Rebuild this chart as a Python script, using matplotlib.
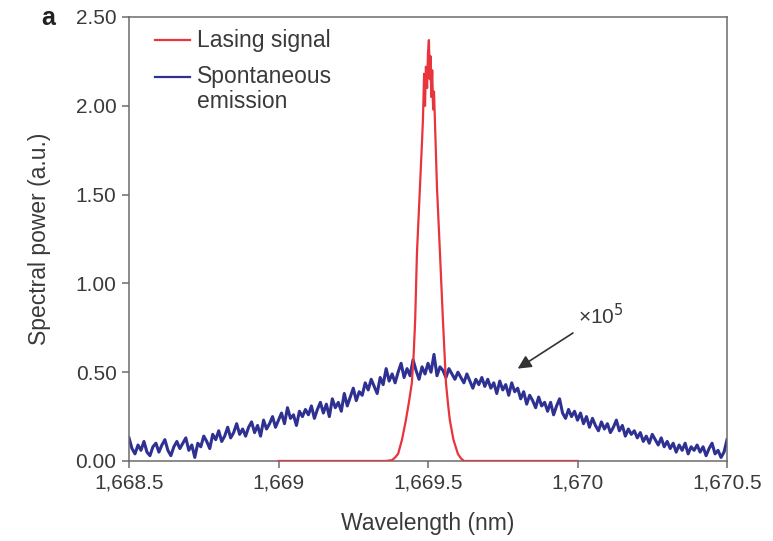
import numpy as np
import matplotlib
matplotlib.use("Agg")
import matplotlib.pyplot as plt

# --- data ------------------------------------------------------------------
# lasing signal (red), wavelength in nm / spectral power in a.u.
laser_wl = [1669.00, 1669.36, 1669.38, 1669.39, 1669.40, 1669.413, 1669.426,
            1669.437, 1669.446, 1669.452, 1669.457, 1669.463, 1669.473,
            1669.480, 1669.483, 1669.487, 1669.490, 1669.493, 1669.497,
            1669.500, 1669.503, 1669.506, 1669.508, 1669.511, 1669.514,
            1669.517, 1669.520, 1669.523, 1669.530, 1669.540, 1669.550,
            1669.560, 1669.567, 1669.573, 1669.585, 1669.600, 1669.610,
            1669.620, 1670.00]
laser_pw = [0.00, 0.00, 0.005, 0.02, 0.04, 0.12, 0.23,
            0.34, 0.44, 0.60, 0.79, 1.17, 1.54,
            1.80, 1.92, 2.18, 2.00, 2.22, 2.10,
            2.30, 2.37, 2.15, 2.28, 2.05, 2.20,
            1.98, 2.08, 1.92, 1.54, 1.17, 0.79,
            0.44, 0.32, 0.23, 0.12, 0.04, 0.015,
            0.00, 0.00]

# spontaneous emission (blue, x1e5), sampled every 0.01 nm from 1668.5 to 1670.5
spont_start, spont_stop = 1668.5, 1670.5
spont_pw = [
    0.13, 0.07, 0.04, 0.09, 0.06, 0.11, 0.05, 0.03, 0.08, 0.10,
    0.05, 0.09, 0.12, 0.06, 0.03, 0.08, 0.11, 0.07, 0.10, 0.13,
    0.06, 0.09, 0.02, 0.10, 0.08, 0.14, 0.11, 0.07, 0.15, 0.12,
    0.17, 0.11, 0.14, 0.19, 0.13, 0.16, 0.21, 0.15, 0.18, 0.14,
    0.19, 0.22, 0.16, 0.20, 0.14, 0.23, 0.18, 0.21, 0.25, 0.19,
    0.23, 0.27, 0.21, 0.30, 0.24, 0.26, 0.20, 0.28, 0.25, 0.29,
    0.26, 0.31, 0.24, 0.29, 0.33, 0.27, 0.32, 0.25, 0.35, 0.30,
    0.33, 0.28, 0.38, 0.31, 0.36, 0.41, 0.34, 0.39, 0.37, 0.44,
    0.40, 0.46, 0.42, 0.38, 0.47, 0.43, 0.52, 0.45, 0.49, 0.44,
    0.50, 0.55, 0.47, 0.52, 0.48, 0.57, 0.51, 0.46, 0.53, 0.49,
    0.55, 0.50, 0.60, 0.48, 0.53, 0.51, 0.47, 0.52, 0.49, 0.46,
    0.50, 0.47, 0.44, 0.49, 0.45, 0.41, 0.46, 0.43, 0.47, 0.42,
    0.46, 0.41, 0.44, 0.38, 0.45, 0.40, 0.43, 0.37, 0.44, 0.39,
    0.41, 0.35, 0.39, 0.32, 0.37, 0.34, 0.30, 0.36, 0.31, 0.33,
    0.28, 0.33, 0.26, 0.31, 0.35, 0.27, 0.24, 0.29, 0.25, 0.28,
    0.23, 0.27, 0.21, 0.25, 0.19, 0.24, 0.20, 0.17, 0.22, 0.18,
    0.21, 0.16, 0.19, 0.23, 0.17, 0.20, 0.14, 0.18, 0.15, 0.17,
    0.13, 0.16, 0.11, 0.14, 0.10, 0.15, 0.12, 0.09, 0.13, 0.08,
    0.11, 0.07, 0.10, 0.05, 0.09, 0.06, 0.10, 0.04, 0.08, 0.06,
    0.09, 0.05, 0.08, 0.03, 0.07, 0.10, 0.04, 0.06, 0.02, 0.05,
    0.12,
]

x_ticks = [1668.5, 1669.0, 1669.5, 1670.0, 1670.5]
x_ticklabels = ["1,668.5", "1,669", "1,669.5", "1,670", "1,670.5"]
y_ticks = [0.0, 0.5, 1.0, 1.5, 2.0, 2.5]

RED = "#e8343a"
BLUE = "#2e3192"
SPINE = "#6b6b6b"
TXT = "#3a3a3a"

plt.rcParams["font.family"] = ["Liberation Sans", "DejaVu Sans"]

fig = plt.figure(figsize=(7.73, 5.41), dpi=100)
ax = fig.add_axes([0.1669, 0.1479, 0.7736, 0.8207])

spont_wl = np.linspace(spont_start, spont_stop, len(spont_pw))
ax.plot(spont_wl, spont_pw, color=BLUE, lw=2.2, zorder=2)
ax.plot(laser_wl, laser_pw, color=RED, lw=1.6, zorder=3)

ax.set_xlim(1668.5, 1670.5)
ax.set_ylim(0, 2.5)
ax.set_xticks(x_ticks)
ax.set_xticklabels(x_ticklabels)
ax.set_yticks(y_ticks)
ax.set_yticklabels([f"{v:.2f}" for v in y_ticks])
ax.tick_params(direction="out", length=5, width=1.1, color=SPINE,
               labelsize=15, labelcolor=TXT, pad=4)
for s in ax.spines.values():
    s.set_color(SPINE)
    s.set_linewidth(1.1)

ax.set_xlabel("Wavelength (nm)", fontsize=16.5, color=TXT, labelpad=14)
ax.set_ylabel("Spectral power (a.u.)", fontsize=16.5, color=TXT, labelpad=18)

# legend drawn by hand (line aligned with first text row)
ax.plot([0.043, 0.102], [0.948, 0.948], transform=ax.transAxes, color=RED, lw=1.6)
ax.text(0.113, 0.948, "Lasing signal", transform=ax.transAxes, fontsize=16.5,
        color=TXT, va="center")
ax.plot([0.043, 0.102], [0.865, 0.865], transform=ax.transAxes, color=BLUE, lw=1.6)
ax.text(0.113, 0.865, "Spontaneous", transform=ax.transAxes, fontsize=16.5,
        color=TXT, va="center")
ax.text(0.113, 0.809, "emission", transform=ax.transAxes, fontsize=16.5,
        color=TXT, va="center")

ax.annotate("×10$^5$", xy=(1669.80, 0.52), xytext=(1670.0, 0.82),
            fontsize=15, color=TXT, va="center", ha="left",
            arrowprops=dict(arrowstyle="-|>", color="#333333", lw=1.2,
                            mutation_scale=20, shrinkA=3, shrinkB=0))

fig.text(0.054, 0.966, "a", fontsize=18, fontweight="bold", color="#222222",
         va="center", ha="left")

fig.savefig("out.png", dpi=100)
